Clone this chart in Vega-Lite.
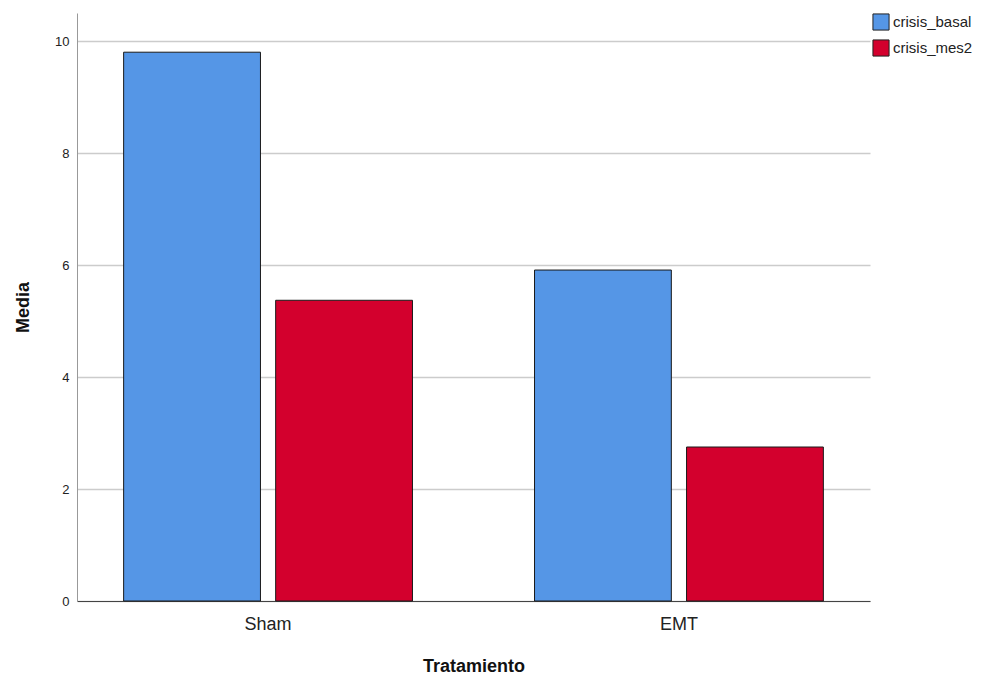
{
  "$schema": "https://vega.github.io/schema/vega-lite/v6.json",
  "width": 793,
  "height": 588,
  "autosize": {"type": "none"},
  "padding": {"left": 77, "top": 13, "right": 127, "bottom": 78},
  "background": "white",
  "data": {
    "values": [
      {"Tratamiento": "Sham", "variable": "crisis_basal", "Media": 9.8},
      {"Tratamiento": "Sham", "variable": "crisis_mes2", "Media": 5.37},
      {"Tratamiento": "EMT", "variable": "crisis_basal", "Media": 5.91},
      {"Tratamiento": "EMT", "variable": "crisis_mes2", "Media": 2.75}
    ]
  },
  "config": {
    "font": "Liberation Sans",
    "view": {"stroke": null}
  },
  "mark": {"type": "bar", "stroke": "#1a1a1a", "strokeWidth": 1},
  "encoding": {
    "x": {
      "field": "Tratamiento",
      "type": "nominal",
      "sort": ["Sham", "EMT"],
      "scale": {"paddingInner": 0.26, "paddingOuter": 0.095},
      "axis": {
        "labelAngle": 0,
        "labelFontSize": 18,
        "labelColor": "#222222",
        "labelPadding": 14,
        "ticks": false,
        "domainColor": "#444444",
        "title": "Tratamiento",
        "titleFontSize": 18,
        "titleFontWeight": "bold",
        "titleColor": "#111111",
        "titlePadding": 24
      }
    },
    "xOffset": {
      "field": "variable",
      "type": "nominal",
      "scale": {"paddingInner": 0.1, "paddingOuter": 0.05}
    },
    "y": {
      "field": "Media",
      "type": "quantitative",
      "scale": {"domain": [0, 10.5], "nice": false},
      "axis": {
        "values": [0, 2, 4, 6, 8, 10],
        "labelFontSize": 13,
        "labelColor": "#222222",
        "labelPadding": 8,
        "ticks": false,
        "domainColor": "#999999",
        "gridColor": "#cccccc",
        "gridWidth": 1.5,
        "title": "Media",
        "titleFontSize": 18,
        "titleFontWeight": "bold",
        "titleColor": "#111111",
        "titlePadding": 22
      }
    },
    "color": {
      "field": "variable",
      "type": "nominal",
      "scale": {"domain": ["crisis_basal", "crisis_mes2"], "range": ["#5596e6", "#d3002d"]},
      "legend": {
        "title": null,
        "orient": "none",
        "legendX": 795,
        "legendY": 0,
        "symbolType": "square",
        "symbolSize": 260,
        "symbolStrokeColor": "#222222",
        "symbolStrokeWidth": 1,
        "labelFontSize": 15,
        "labelColor": "#222222",
        "labelOffset": 3,
        "rowPadding": 4
      }
    }
  }
}
